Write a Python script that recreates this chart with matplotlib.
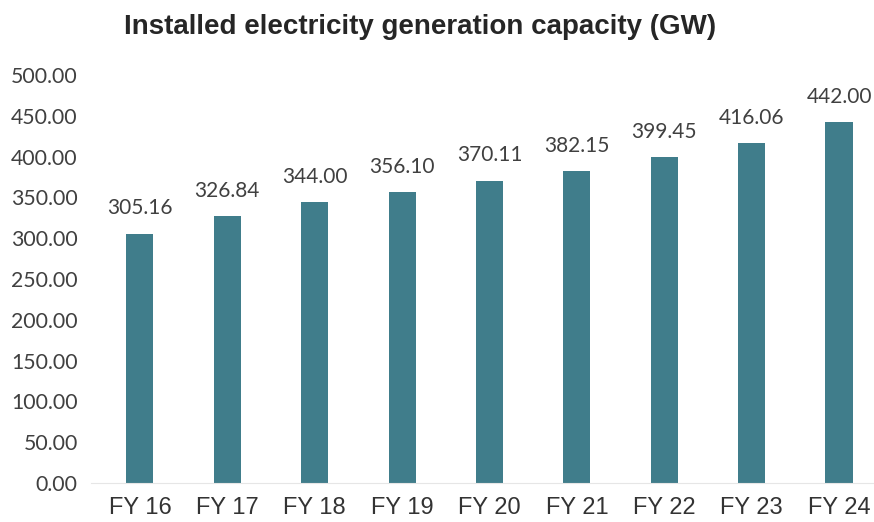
import matplotlib.pyplot as plt
from matplotlib.ticker import FormatStrFormatter

years = ["FY 16", "FY 17", "FY 18", "FY 19", "FY 20", "FY 21", "FY 22", "FY 23", "FY 24"]
capacity_gw = [305.16, 326.84, 344.00, 356.10, 370.11, 382.15, 399.45, 416.06, 442.00]
y_ticks = [0, 50, 100, 150, 200, 250, 300, 350, 400, 450, 500]

W, H = 874, 522
fig = plt.figure(figsize=(W / 100, H / 100), dpi=100)
ax = fig.add_axes([91 / W, 1 - 483 / H, (W - 91) / W, (483 - 75) / H])

x = list(range(len(years)))
ax.bar(x, capacity_gw, width=0.31, color="#407D8B", zorder=2)

for xi, v in zip(x, capacity_gw):
    ax.text(xi, v + 19, f"{v:.2f}", ha="center", va="bottom",
            fontsize=15, family="Lato", color="#404040")

ax.set_xlim(-0.56, 8.40)
ax.set_ylim(0, 500)
ax.set_yticks(y_ticks)
ax.yaxis.set_major_formatter(FormatStrFormatter("%.2f"))
ax.set_xticks(x)
ax.set_xticklabels(years, family="Liberation Sans", fontsize=17, color="#333333")
for lbl in ax.get_yticklabels():
    lbl.set_family("Lato")
    lbl.set_fontsize(15.3)
    lbl.set_color("#404040")

ax.tick_params(axis="both", length=0)
ax.tick_params(axis="y", pad=9.5)
ax.tick_params(axis="x", pad=10)
for side in ["top", "right", "left"]:
    ax.spines[side].set_visible(False)
ax.spines["bottom"].set_color("#E6E6E6")

fig.text(420 / W, 1 - 27 / H, "Installed electricity generation capacity (GW)",
         ha="center", va="center", fontsize=20, fontweight="bold",
         family="Liberation Sans", color="#262626")

fig.savefig("out.png", dpi=100)
